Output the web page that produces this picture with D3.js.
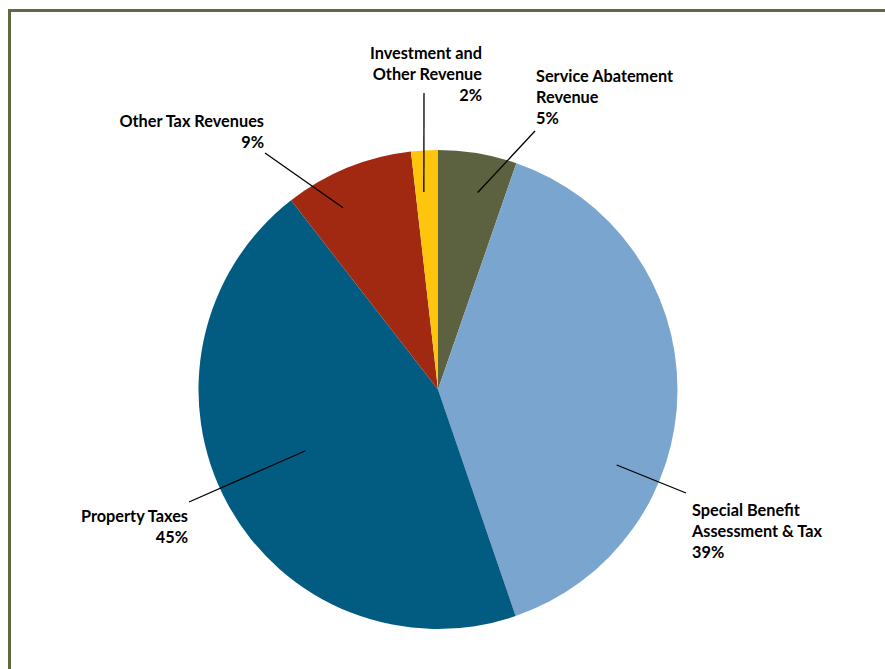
<!DOCTYPE html>
<meta charset="utf-8">
<style>
body { margin: 0; background: #fff; }
.label { font-family: Lato, "Open Sans", sans-serif; font-weight: bold; font-size: 16.3px; fill: #000; }
.leader { stroke: #000; stroke-width: 1.3; fill: none; }
</style>
<svg width="885" height="669"></svg>
<script src="https://d3js.org/d3.v7.min.js"></script>
<script>

// slices, clockwise from 12 o'clock
var categories = ["Service Abatement Revenue", "Special Benefit Assessment & Tax", "Property Taxes", "Other Tax Revenues", "Investment and Other Revenue"];
var shares = [5.3, 39.4, 44.7, 8.7, 1.8];
var labelLines = [
  ["Service Abatement", "Revenue"],
  ["Special Benefit", "Assessment & Tax"],
  ["Property Taxes"],
  ["Other Tax Revenues"],
  ["Investment and", "Other Revenue"]
];
var colors = ["#5c6140", "#79a5cf", "#025b80", "#a12911", "#fec50c"];

// label placement: text anchor point, alignment, leader start (deg, px from centre)
var labelLayout = [
  {x: 536, y: 82, anchor: "start", a: 11.4, r: 201, lx: 535, ly: 131},
  {x: 692, y: 516, anchor: "start", a: 112.9, r: 194, lx: 686, ly: 493},
  {x: 188, y: 522, anchor: "end", a: 245.2, r: 146, lx: 189, ly: 502},
  {x: 264, y: 127, anchor: "end", a: 332.4, r: 205, lx: 265, ly: 153},
  {x: 482, y: 59, anchor: "end", a: 355.9, r: 198, lx: 424, ly: 93}
];

var svg = d3.select("svg"),
    cx = 438, cy = 389.5, radius = 239.5;

// frame
svg.append("rect")
    .attr("x", 9.5).attr("y", 10.5)
    .attr("width", 900).attr("height", 700)
    .attr("fill", "none")
    .attr("stroke", "#5f6a44")
    .attr("stroke-width", 3);

var data = categories.map(function(c, i) { return {name: c, value: shares[i], i: i}; });
var total = d3.sum(shares);

var pie = d3.pie().sort(null).value(function(d) { return d.value; });
var arc = d3.arc().innerRadius(0).outerRadius(radius);

var g = svg.append("g")
    .attr("transform", "translate(" + cx + "," + cy + ")");

var arcs = pie(data);

g.selectAll("path.slice")
  .data(arcs)
  .enter().append("path")
    .attr("class", "slice")
    .attr("d", arc)
    .attr("fill", function(d) { return colors[d.data.i]; });

// leader lines
g.selectAll("line.leader")
  .data(arcs)
  .enter().append("line")
    .attr("class", "leader")
    .each(function(d) {
      var L = labelLayout[d.data.i],
          p = d3.pointRadial(L.a * Math.PI / 180, L.r);
      d3.select(this)
        .attr("x1", p[0]).attr("y1", p[1])
        .attr("x2", L.lx - cx).attr("y2", L.ly - cy);
    });

// labels
var lineH = 21;
svg.selectAll("text.label")
  .data(arcs)
  .enter().append("text")
    .attr("class", "label")
    .attr("text-anchor", function(d) { return labelLayout[d.data.i].anchor; })
    .each(function(d) {
      var L = labelLayout[d.data.i],
          lines = labelLines[d.data.i].concat([Math.round(d.data.value / total * 100) + "%"]);
      d3.select(this).selectAll("tspan")
        .data(lines)
        .enter().append("tspan")
          .attr("x", L.x)
          .attr("y", function(t, k) { return L.y + k * lineH; })
          .text(function(t) { return t; });
    });

</script>
